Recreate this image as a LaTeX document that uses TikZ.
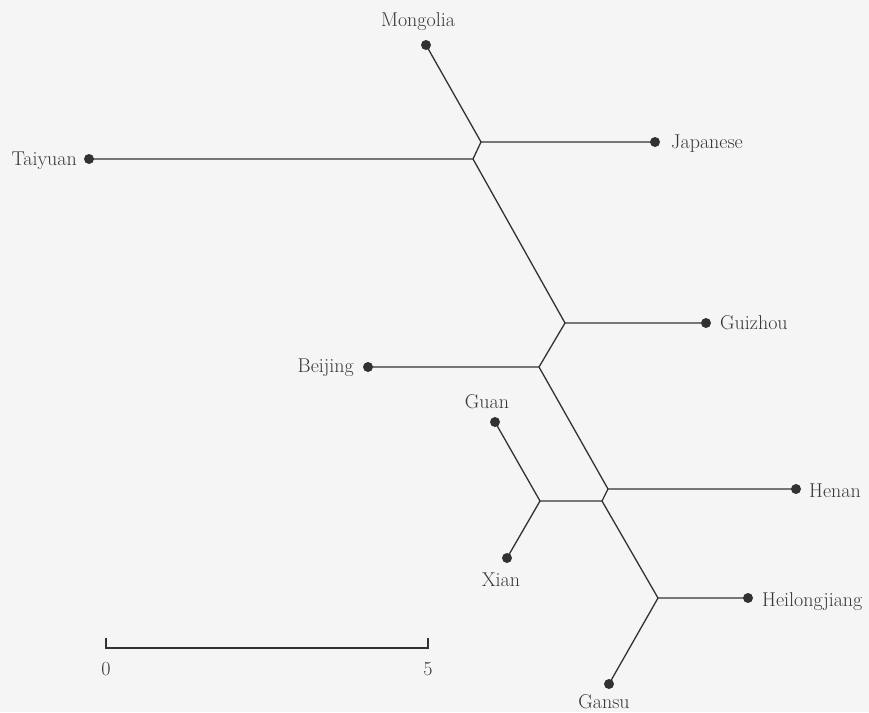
\documentclass[tikz,border=0pt]{standalone}
\usepackage{xcolor}
\definecolor{bg}{RGB}{245,245,245}
\definecolor{ln}{RGB}{50,50,50}
\definecolor{tx}{RGB}{55,55,55}
\begin{document}
\begin{tikzpicture}[x=1pt,y=-1pt,
  dot/.style={circle,fill=ln,inner sep=0pt,minimum size=10pt},
  br/.style={draw=ln,line width=1.3pt},
  lab/.style={inner sep=0pt,text=tx,font=\fontsize{20}{24}\selectfont}]
\fill[bg] (0,0) rectangle (869,712);
\useasboundingbox (0,0) rectangle (869,712);
% junctions
\coordinate (A) at (481,142);
\coordinate (B) at (473,159);
\coordinate (C) at (565,323);
\coordinate (D) at (539,367);
\coordinate (E) at (608,489);
\coordinate (F) at (602,501);
\coordinate (G) at (540,501);
\coordinate (H) at (658,598);
% leaves
\node[dot] (mon) at (426,45) {};
\node[dot] (jap) at (655,142) {};
\node[dot] (tai) at (89,159) {};
\node[dot] (gui) at (706,323) {};
\node[dot] (bei) at (368,367) {};
\node[dot] (hen) at (796,489) {};
\node[dot] (gua) at (495,422) {};
\node[dot] (xia) at (507,558) {};
\node[dot] (hei) at (748,598) {};
\node[dot] (gan) at (609,684) {};
% branches
\draw[br] (mon.center) -- (A) -- (jap.center);
\draw[br] (A) -- (B) -- (tai.center);
\draw[br] (B) -- (C) -- (gui.center);
\draw[br] (C) -- (D) -- (bei.center);
\draw[br] (D) -- (E) -- (hen.center);
\draw[br] (E) -- (F) -- (G);
\draw[br] (gua.center) -- (G) -- (xia.center);
\draw[br] (F) -- (H) -- (hei.center);
\draw[br] (H) -- (gan.center);
% labels
\node[lab,anchor=base] (lmon) at (418,27) {Mongolia};
\node[lab,anchor=base west] (ljap) at (671,148) {Japanese};
\node[lab,anchor=base east] (ltai) at (77,165) {Taiyuan};
\node[lab,anchor=base west] (lgui) at (720,329) {Guizhou};
\node[lab,anchor=base east] (lbei) at (354,372) {Beijing};
\node[lab,anchor=base] (lgua) at (487,408) {Guan};
\node[lab,anchor=base west] (lhen) at (809,497) {Henan};
\node[lab,anchor=base] (lxia) at (501,586) {Xian};
\node[lab,anchor=base west] (lhei) at (762,606) {Heilongjiang};
\node[lab,anchor=base] (lgan) at (604,708) {Gansu};
% scale bar
\coordinate (s0) at (106,648);
\coordinate (s5) at (428,648);
\draw[br,line width=1.1pt] ([yshift=10pt]s0) -- (s0) -- (s5) -- ([yshift=10pt]s5);
\node[lab,anchor=base] (l0) at (106,675) {0};
\node[lab,anchor=base] (l5) at (428,675) {5};
\end{tikzpicture}
\end{document}
